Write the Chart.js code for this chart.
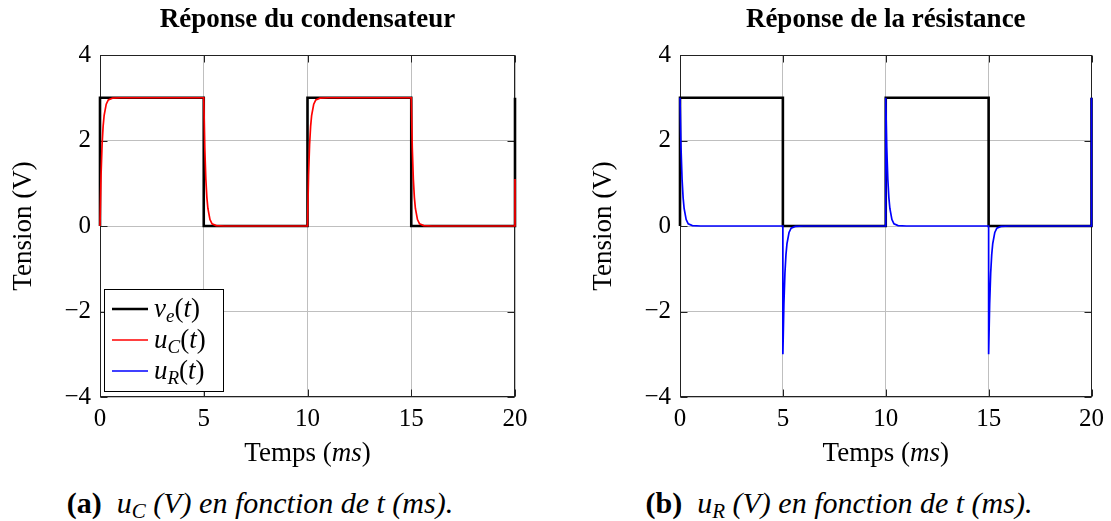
<!DOCTYPE html>
<html>
<head>
<meta charset="utf-8">
<script src="https://cdn.jsdelivr.net/npm/chart.js@4.4.1/dist/chart.umd.min.js"></script>
<style>
  body { margin: 0; background: #fff; width: 1111px; height: 521px; overflow: hidden; position: relative; font-family: 'Liberation Serif', serif; }
  canvas { position: absolute; top: 0; }
  #c1 { left: 0; }
  #c2 { left: 580px; }
  .cap { position: absolute; top: 486px; width: 520px; text-align: center; font-size: 30px; line-height: 34px; color: #000; white-space: nowrap; }
  .cap sub { font-size: 0.7em; vertical-align: -0.25em; line-height: 0; }
  #cap1 { left: 0; }
  #cap2 { left: 579px; }
</style>
</head>
<body>
<canvas id="c1" width="556" height="470"></canvas>
<canvas id="c2" width="531" height="470"></canvas>
<div class="cap" id="cap1"><b>(a)</b>&nbsp; <i>u<sub>C</sub> (V) en fonction de t (ms).</i></div>
<div class="cap" id="cap2"><b>(b)</b>&nbsp; <i>u<sub>R</sub> (V) en fonction de t (ms).</i></div>
<script>
// input square wave
var t_ve = [0, 0, 5, 5, 10, 10, 15, 15, 20, 20];
var ve = [0, 3, 3, 0, 0, 3, 3, 0, 0, 3];

// capacitor voltage
var t_uc = [0, 0.05, 0.1, 0.15, 0.2, 0.3, 0.4, 0.6, 1, 5, 5.05, 5.1, 5.15, 5.2, 5.3, 5.4, 5.6, 6,
            10, 10.05, 10.1, 10.15, 10.2, 10.3, 10.4, 10.6, 11, 15, 15.05, 15.1, 15.15, 15.2, 15.3, 15.4, 15.6, 16, 20, 20];
var uc = [0, 1.18, 1.9, 2.33, 2.59, 2.85, 2.95, 2.99, 3, 3, 1.82, 1.1, 0.67, 0.41, 0.15, 0.05, 0.01, 0,
          0, 1.18, 1.9, 2.33, 2.59, 2.85, 2.95, 2.99, 3, 3, 1.82, 1.1, 0.67, 0.41, 0.15, 0.05, 0.01, 0, 0, 1.1];

// resistor voltage
var t_ur = [0, 0.05, 0.1, 0.15, 0.2, 0.3, 0.4, 0.6, 1, 5, 5, 5.05, 5.1, 5.15, 5.2, 5.3, 5.4, 5.6, 6,
            10, 10, 10.05, 10.1, 10.15, 10.2, 10.3, 10.4, 10.6, 11, 15, 15, 15.05, 15.1, 15.15, 15.2, 15.3, 15.4, 15.6, 16, 20, 20];
var ur = [3, 1.82, 1.1, 0.67, 0.41, 0.15, 0.05, 0.01, 0, 0, -3, -1.82, -1.1, -0.67, -0.41, -0.15, -0.05, -0.01, 0,
          0, 3, 1.82, 1.1, 0.67, 0.41, 0.15, 0.05, 0.01, 0, 0, -3, -1.82, -1.1, -0.67, -0.41, -0.15, -0.05, -0.01, 0, 0, 3];

var x_ticks = [0, 5, 10, 15, 20];
var y_ticks = [-4, -2, 0, 2, 4];
var labels = ['v_e(t)', 'u_C(t)', 'u_R(t)'];

var FAM = "'Liberation Serif', serif";
Chart.defaults.font.family = FAM;
Chart.defaults.color = '#000';

function pts(xs, ys) {
    let out = [];
    for (let i = 0; i < xs.length; i++) out.push({ x: xs[i], y: ys[i] });
    return out;
}

// draws pieces of text with different fonts one after the other
function draw_runs(ctx, runs, x, y, centered) {
    ctx.save();
    ctx.textAlign = 'left';
    ctx.textBaseline = 'alphabetic';
    ctx.fillStyle = '#000';
    let w = 0;
    runs.forEach(r => { ctx.font = r.f; r.w = ctx.measureText(r.t).width; w += r.w; });
    let cx = centered ? x - w / 2 : x;
    runs.forEach(r => { ctx.font = r.f; ctx.fillText(r.t, cx, y + (r.dy || 0)); cx += r.w; });
    ctx.restore();
}

var frame_plugin = {
    id: 'frame',
    beforeDatasetsDraw(chart) {
        const ctx = chart.ctx, a = chart.chartArea;
        const xs = chart.scales.x, ys = chart.scales.y;
        const L = Math.round(a.left) + 0.5, R = Math.round(a.right) - 0.5;
        const T = Math.round(a.top) + 0.5, B = Math.round(a.bottom) - 0.5;
        ctx.save();
        ctx.strokeStyle = '#222';
        ctx.lineWidth = 1;
        ctx.beginPath();
        x_ticks.forEach(v => {
            const px = Math.round(xs.getPixelForValue(v)) + 0.5;
            ctx.moveTo(px, B); ctx.lineTo(px, B - 7);
            ctx.moveTo(px, T); ctx.lineTo(px, T + 7);
        });
        y_ticks.forEach(v => {
            const py = Math.round(ys.getPixelForValue(v)) + 0.5;
            ctx.moveTo(L, py); ctx.lineTo(L + 7, py);
            ctx.moveTo(R, py); ctx.lineTo(R - 7, py);
        });
        ctx.stroke();
        ctx.strokeRect(L, T, R - L, B - T);
        ctx.restore();
    },
    afterDraw(chart) {
        const a = chart.chartArea;
        draw_runs(chart.ctx, [
            { t: 'Temps (', f: '27px ' + FAM },
            { t: 'ms', f: 'italic 27px ' + FAM },
            { t: ')', f: '27px ' + FAM }
        ], (a.left + a.right) / 2, 461, true);
    }
};

var legend_plugin = {
    id: 'texlegend',
    afterDraw(chart) {
        const ctx = chart.ctx, a = chart.chartArea;
        const bx = a.left + 4, by = a.bottom - 108, bw = 119, bh = 102;
        ctx.save();
        ctx.fillStyle = '#fff';
        ctx.fillRect(bx, by, bw, bh);
        ctx.strokeStyle = '#000';
        ctx.lineWidth = 1;
        ctx.strokeRect(Math.round(bx) + 0.5, Math.round(by) + 0.5, bw, bh);
        chart.data.datasets.forEach((ds, i) => {
            const ly = by + 20 + i * 31;
            ctx.strokeStyle = ds.borderColor;
            ctx.lineWidth = ds.borderWidth;
            ctx.beginPath();
            ctx.moveTo(bx + 8, ly);
            ctx.lineTo(bx + 44, ly);
            ctx.stroke();
            const lab = ds.label;
            const base = lab.split('_')[0];
            const sub = lab.split('_')[1].split('(')[0];
            draw_runs(ctx, [
                { t: base, f: 'italic 27px ' + FAM },
                { t: sub, f: 'italic 19px ' + FAM, dy: 5 },
                { t: '(', f: '27px ' + FAM },
                { t: 't', f: 'italic 27px ' + FAM },
                { t: ')', f: '27px ' + FAM }
            ], bx + 50, ly + 8, false);
        });
        ctx.restore();
    }
};

function make_chart(id, title, datasets, pad_right, with_legend) {
    const plugins = [frame_plugin];
    if (with_legend) plugins.push(legend_plugin);
    return new Chart(document.getElementById(id), {
        type: 'scatter',
        data: { datasets: datasets },
        plugins: plugins,
        options: {
            responsive: false,
            animation: false,
            layout: { padding: { left: 0, right: pad_right, top: 0, bottom: 0 } },
            elements: { point: { radius: 0 }, line: { tension: 0 } },
            scales: {
                x: {
                    type: 'linear', min: 0, max: 20,
                    afterBuildTicks: s => { s.ticks = x_ticks.map(v => ({ value: v })); },
                    afterFit: s => { s.height = 73; },
                    grid: { color: '#bfbfbf', drawTicks: false },
                    border: { display: false },
                    ticks: { padding: 7, font: { size: 25 }, color: '#000' }
                },
                y: {
                    type: 'linear', min: -4, max: 4,
                    afterBuildTicks: s => { s.ticks = y_ticks.map(v => ({ value: v })); },
                    afterFit: s => { s.width = 100; },
                    grid: { color: '#bfbfbf', drawTicks: false },
                    border: { display: false },
                    ticks: {
                        padding: 9, font: { size: 25 }, color: '#000',
                        callback: v => String(v).replace('-', '\u2212')
                    },
                    title: {
                        display: true, text: 'Tension (V)', color: '#000',
                        font: { size: 27 }, padding: { top: 8, bottom: 0 }
                    }
                }
            },
            plugins: {
                legend: { display: false },
                tooltip: { enabled: false },
                title: {
                    display: true, text: title, fullSize: false, color: '#000',
                    font: { size: 27, weight: 'bold' },
                    padding: { top: 4, bottom: 18.6 }
                }
            }
        }
    });
}

function line(label, xs, ys, color, width, order) {
    return {
        label: label, data: pts(xs, ys), showLine: true, borderColor: color,
        backgroundColor: color, borderWidth: width, pointRadius: 0, fill: false,
        order: order, clip: 4
    };
}

var chart1 = make_chart('c1', 'Réponse du condensateur', [
    line(labels[0], t_ve, ve, '#000000', 2.6, 3),
    line(labels[1], t_uc, uc, '#ff0000', 1.7, 2),
    line(labels[2], [], [], '#0000ff', 1.7, 1)
], 41, true);

var chart2 = make_chart('c2', 'Réponse de la résistance', [
    line(labels[0], t_ve, ve, '#000000', 2.6, 3),
    line(labels[2], t_ur, ur, '#0000ff', 1.7, 1)
], 16, false);
</script>
</body>
</html>
